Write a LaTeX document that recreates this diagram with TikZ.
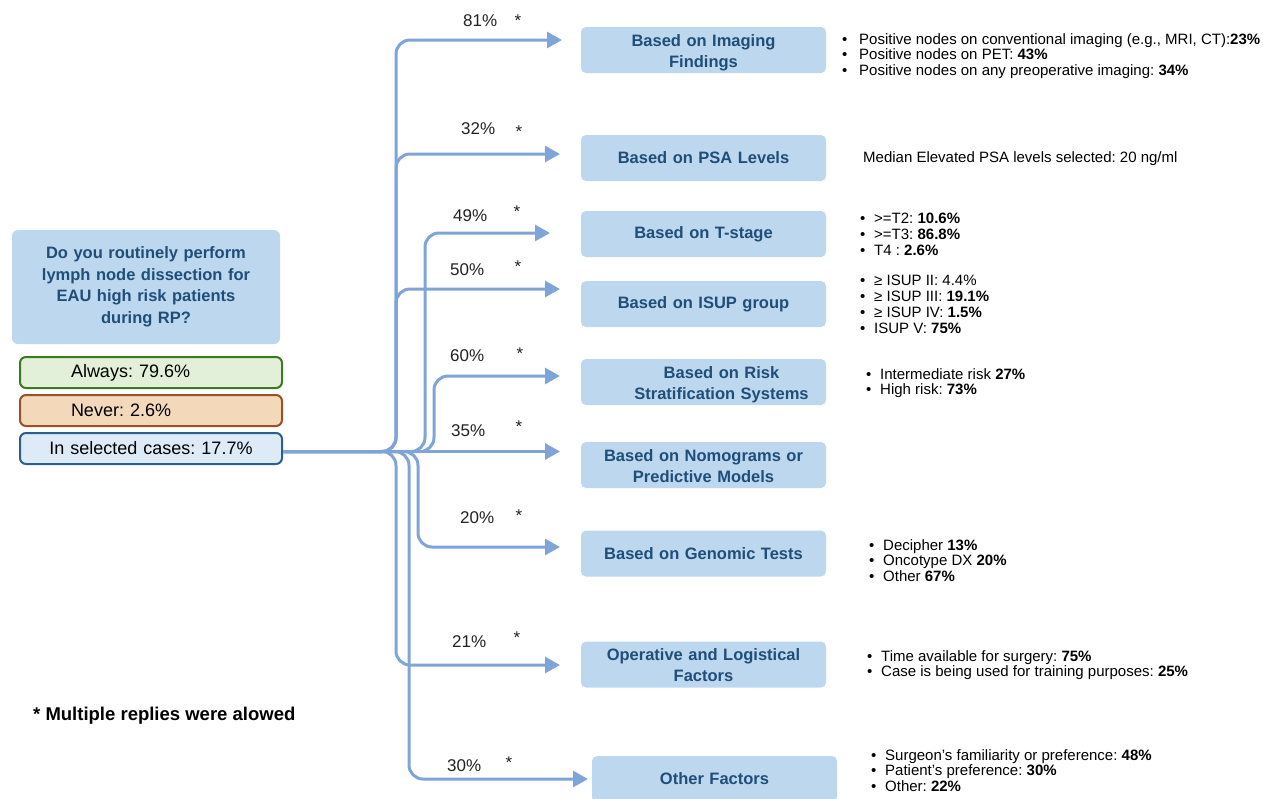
\documentclass[tikz,border=0pt]{standalone}
\usepackage{fontspec}
\setmainfont{Liberation Sans}
\usetikzlibrary{arrows.meta}
\definecolor{boxfill}{HTML}{BDD7EE}
\definecolor{boxtext}{HTML}{1F4E79}
\definecolor{arr}{HTML}{7FA4D8}
\definecolor{alwfill}{HTML}{E2F0D9}
\definecolor{alwdraw}{HTML}{3A7A22}
\definecolor{nevfill}{HTML}{F3D8BA}
\definecolor{nevdraw}{HTML}{9A5224}
\definecolor{selfill}{HTML}{DDEBF7}
\definecolor{seldraw}{HTML}{2E5F8A}
\definecolor{pcttext}{HTML}{222222}
\newcommand{\bli}[2][14pt]{\makebox[#1][l]{\textbullet}#2}
\frenchspacing
\begin{document}
\begin{tikzpicture}[x=1pt,y=-1pt,
  cat/.style={fill=boxfill, rounded corners=5pt, minimum width=245pt, minimum height=46pt,
    text width=240pt, align=center, inner sep=0pt,
    font=\fontsize{16.5}{21}\selectfont\bfseries, text=boxtext},
  conn/.style={draw=arr, line width=3pt, rounded corners=14pt,
    -{Triangle[length=15pt,width=16pt]}},
  pct/.style={anchor=west, inner sep=0pt, font=\fontsize{17}{20}\selectfont, text=pcttext},
  star/.style={inner sep=0pt, font=\fontsize{17}{20}\selectfont, text=pcttext},
  blist/.style={align=left, anchor=north west, inner sep=0pt,
    font=\fontsize{15}{15.8}\selectfont},
  answer/.style={rounded corners=6pt, line width=2pt, minimum height=31pt,
    inner xsep=0pt, inner ysep=0pt, font=\fontsize{18}{21}\selectfont, anchor=west,
    text width=262pt}
]
\useasboundingbox (0,0) rectangle (1263,798);

% question
\node[fill=boxfill, rounded corners=6pt, minimum width=268pt, minimum height=114pt,
  text width=260pt, align=center, inner sep=0pt,
  font=\fontsize{16.5}{21.5}\selectfont\bfseries, text=boxtext] (q) at (146,287)
  {Do you routinely perform\\lymph node dissection for\\EAU high risk patients\\during RP?};

\node[answer, fill=alwfill, draw=alwdraw, align=left] (alw) at (19,372.5)
  {\hspace*{51pt}Always: 79.6\%};
\node[answer, fill=nevfill, draw=nevdraw, align=left] (nev) at (19,410.5)
  {\hspace*{51pt}Never: 2.6\%};
\node[answer, fill=selfill, draw=seldraw, align=center] (sel) at (19,448.5)
  {In selected cases: 17.7\%};

% categories
\node[cat] (img) at (703.5,50) {\rule{0pt}{18pt}Based on Imaging\\Findings};
\node[cat] (psa) at (703.5,158) {Based on PSA Levels};
\node[cat] (tst) at (703.5,234) {Based on T-stage};
\node[cat] (isup) at (703.5,304) {Based on ISUP group};
\node[cat] (risk) at (703.5,382) {\rule{0pt}{18pt}\hspace*{36pt}Based on Risk\\\hspace*{36pt}Stratification Systems};
\node[cat] (nomo) at (703.5,465) {\rule{0pt}{14pt}Based on Nomograms or\\Predictive Models};
\node[cat] (gen) at (703.5,553.5) {Based on Genomic Tests};
\node[cat] (op) at (703.5,664.5) {\rule{0pt}{14pt}Operative and Logistical\\Factors};
\node[cat] (oth) at (714.5,779) {Other Factors};

% connectors
\coordinate (root) at ([yshift=-3pt]sel.east);
\coordinate (eimg) at (562,40);
\coordinate (epsa) at (560,154);
\coordinate (etst) at (550,233);
\coordinate (eisup) at (560,289);
\coordinate (erisk) at (560,376);
\coordinate (enomo) at (560,451.5);
\coordinate (egen) at (560,547);
\coordinate (eop) at (560,665);
\coordinate (eoth) at (588,779);

\draw[conn] (root) -| (396,40) -- (eimg);
\draw[conn] (root) -| (396,154) -- (epsa);
\draw[conn] (root) -| (425,233) -- (etst);
\draw[conn] (root) -| (396,289) -- (eisup);
\draw[conn] (root) -| (434,376) -- (erisk);
\draw[conn] (root) -- (enomo);
\draw[conn] (root) -| (418,547) -- (egen);
\draw[conn] (root) -| (396,665) -- (eop);
\draw[conn] (root) -| (409,779) -- (eoth);

% percentages
\node[pct] (p1) at (463,21) {81\%};   \node[star] (s1) at (518,21) {*};
\node[pct] (p2) at (461,129) {32\%};  \node[star] (s2) at (519,132) {*};
\node[pct] (p3) at (453,216) {49\%};  \node[star] (s3) at (517,212) {*};
\node[pct] (p4) at (450,270) {50\%};  \node[star] (s4) at (518,267) {*};
\node[pct] (p5) at (450,356) {60\%};  \node[star] (s5) at (520,354) {*};
\node[pct] (p6) at (451,431) {35\%};  \node[star] (s6) at (519,427) {*};
\node[pct] (p7) at (460,518) {20\%};  \node[star] (s7) at (519,516) {*};
\node[pct] (p8) at (452,642) {21\%};  \node[star] (s8) at (517,638) {*};
\node[pct] (p9) at (447,766) {30\%};  \node[star] (s9) at (509,763) {*};

% detail lists
\node[blist] (l1) at (842,33) {\bli[17pt]{Positive nodes on conventional imaging (e.g., MRI, CT):\textbf{23\%}}\\
  \bli[17pt]{Positive nodes on PET: \textbf{43\%}}\\
  \bli[17pt]{Positive nodes on any preoperative imaging: \textbf{34\%}}};
\node[blist] (l2) at (863,151) {Median Elevated PSA levels selected: 20 ng/ml};
\node[blist] (l3) at (860,213) {\bli{>=T2: \textbf{10.6\%}}\\\bli{>=T3: \textbf{86.8\%}}\\\bli{T4 : \textbf{2.6\%}}};
\node[blist] (l4) at (860,275) {\bli{≥ ISUP II: 4.4\%}\\\bli{≥ ISUP III: \textbf{19.1\%}}\\\bli{≥ ISUP IV: \textbf{1.5\%}}\\\bli{ISUP V: \textbf{75\%}}};
\node[blist] (l5) at (866,368) {\bli{Intermediate risk \textbf{27\%}}\\\bli{High risk: \textbf{73\%}}};
\node[blist] (l6) at (869,539) {\bli{Decipher \textbf{13\%}}\\\bli{Oncotype DX \textbf{20\%}}\\\bli{Other \textbf{67\%}}};
\node[blist] (l7) at (867,650) {\bli{Time available for surgery: \textbf{75\%}}\\\bli{Case is being used for training purposes: \textbf{25\%}}};
\node[blist] (l8) at (871,749) {\bli{Surgeon’s familiarity or preference: \textbf{48\%}}\\\bli{Patient’s preference: \textbf{30\%}}\\\bli{Other: \textbf{22\%}}};

% footnote
\node[anchor=west, inner sep=0pt, font=\fontsize{18.5}{20}\selectfont\bfseries] (fn) at (33,716)
  {* Multiple replies were alowed};
\end{tikzpicture}
\end{document}
